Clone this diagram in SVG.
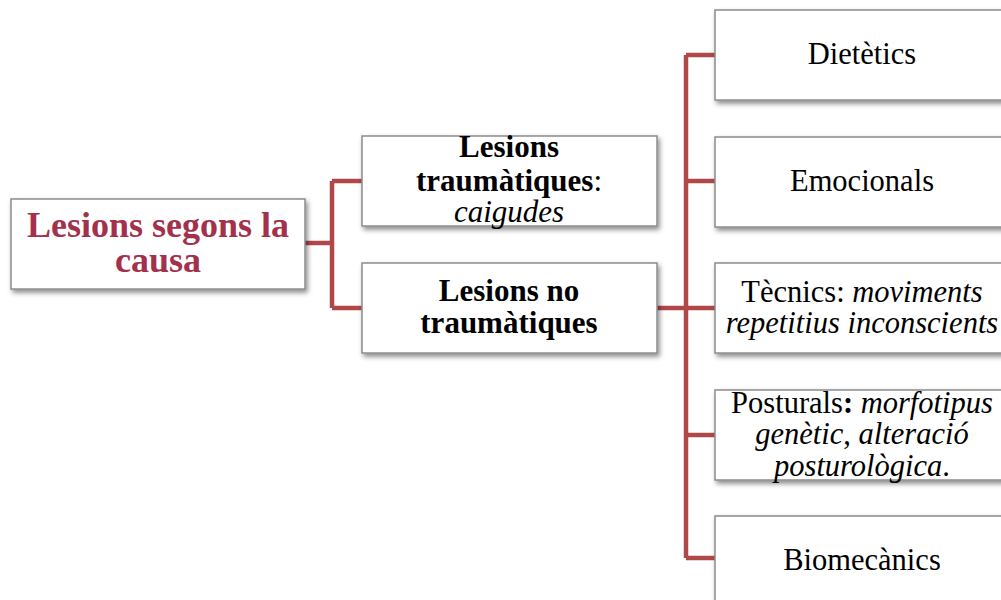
<svg xmlns="http://www.w3.org/2000/svg" width="1001" height="600" viewBox="0 0 1001 600">
<defs>
<filter id="sh" x="-10%" y="-10%" width="130%" height="140%">
<feDropShadow dx="2" dy="3" stdDeviation="2.5" flood-color="#000" flood-opacity="0.45"/>
</filter>
</defs>
<style>
.box{fill:#fff;stroke:#8c8c8c;stroke-width:1.5;filter:url(#sh)}
.con{fill:none;stroke:#b0484a;stroke-width:4.5}
text{text-anchor:middle;fill:#000}
.root{font-size:36px;font-weight:bold;fill:#a3314b}
.l2{font-size:31px;font-weight:bold}
.l3{font-size:30.5px}
.it{font-style:italic;font-weight:normal}
</style>
<rect width="1001" height="600" fill="#fff"/>
<g id="connectors">
<path class="con" d="M305,243 H332 M332,181 V308 M332,181 H362 M332,308 H362"/>
<path class="con" d="M657,308 H686 M686,55 V558 M686,55 H715 M686,181 H715 M686,308 H715 M686,435 H715 M686,558 H715"/>
</g>
<g font-family="Liberation Serif, Times New Roman, serif">
<g id="root">
<rect class="box" x="11" y="199" width="294" height="90"/>
<text class="root" x="158" y="237">Lesions segons la</text>
<text class="root" x="158" y="272">causa</text>
</g>
<g id="traumatiques">
<rect class="box" x="362" y="136" width="295" height="90"/>
<text class="l2" x="509" y="157">Lesions</text>
<text class="l2" x="509" y="191">traumàtiques<tspan font-weight="normal">:</tspan></text>
<text class="l2 it" x="509" y="222">caigudes</text>
</g>
<g id="no-traumatiques">
<rect class="box" x="362" y="263" width="295" height="90"/>
<text class="l2" x="509" y="301">Lesions no</text>
<text class="l2" x="509" y="333">traumàtiques</text>
</g>
<g id="dietetics">
<rect class="box" x="715" y="10" width="300" height="90"/>
<text class="l3" x="862" y="64">Dietètics</text>
</g>
<g id="emocionals">
<rect class="box" x="715" y="137" width="300" height="90"/>
<text class="l3" x="862" y="191">Emocionals</text>
</g>
<g id="tecnics">
<rect class="box" x="715" y="263" width="300" height="90"/>
<text class="l3" x="862" y="302">Tècnics: <tspan font-style="italic">moviments</tspan></text>
<text class="l3" x="862" y="333" font-style="italic">repetitius inconscients</text>
</g>
<g id="posturals">
<rect class="box" x="715" y="390" width="300" height="90"/>
<text class="l3" x="862" y="413">Posturals<tspan font-weight="bold">:</tspan> <tspan font-style="italic">morfotipus</tspan></text>
<text class="l3" x="862" y="444"><tspan font-style="italic">genètic</tspan>, <tspan font-style="italic">alteració</tspan></text>
<text class="l3" x="862" y="476"><tspan font-style="italic">posturològica</tspan>.</text>
</g>
<g id="biomecanics">
<rect class="box" x="715" y="516" width="300" height="100"/>
<text class="l3" x="862" y="570">Biomecànics</text>
</g>
</g>
</svg>
